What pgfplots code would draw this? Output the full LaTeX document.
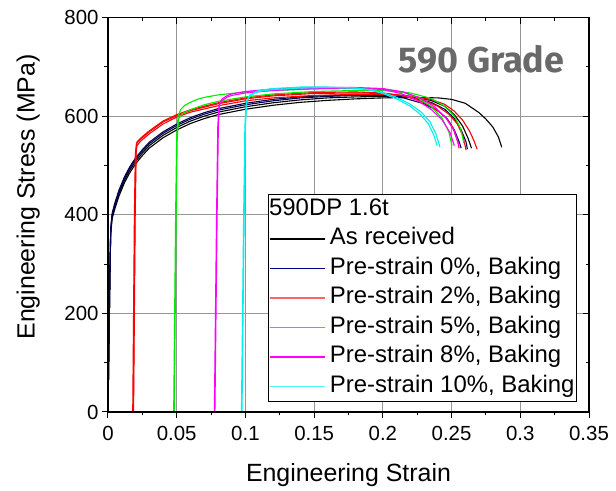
\documentclass[border=0pt]{standalone}
\usepackage{fontspec}
\setmainfont{Liberation Sans}
\newfontfamily\gradefont{Fira Sans}
\usepackage{pgfplots}
\pgfplotsset{compat=1.18}
\definecolor{navyc}{RGB}{0,0,140}
\definecolor{legred}{RGB}{255,100,100}
\definecolor{gridc}{RGB}{150,150,150}
\definecolor{gradegray}{RGB}{105,105,105}
\definecolor{cyanc}{RGB}{0,240,240}
\definecolor{greenc}{RGB}{0,235,0}
\definecolor{magc}{RGB}{255,0,255}
\definecolor{leggreen}{RGB}{0,255,0}
\begin{document}
\begin{tikzpicture}
\pgfplotsset{
  commonax/.style={scale only axis, width=481bp, height=394.5bp,
    xmin=0, xmax=0.35, ymin=0, ymax=800,
    xtick={0,0.05,0.1,0.15,0.2,0.25,0.3,0.35}, ytick={0,200,400,600,800},
    minor x tick num=1, minor y tick num=1,
    axis line style={line width=1.2bp},
    major tick length=6bp, minor tick length=3.5bp,
    every tick/.style={black, line width=1bp}},
}
\begin{axis}[commonax, xtick pos=bottom, ytick pos=left, tick align=outside,
  xticklabels={0,0.05,0.1,0.15,0.2,0.25,0.3,0.35},
  yticklabels={0,200,400,600,800},
  ticklabel style={font=\fontsize{20.5}{20.5}\selectfont},
  xticklabel style={yshift=-5bp},
  grid=major, major grid style={gridc, line width=0.9bp},
  xlabel={Engineering Strain}, ylabel={Engineering Stress (MPa)},
  every axis x label/.style={at={(axis description cs:0.5,-0.1774)}, anchor=base, font=\fontsize{25}{25}\selectfont},
  every axis y label/.style={at={(axis description cs:-0.166,0.545)}, rotate=90, anchor=center, font=\fontsize{25}{25}\selectfont},
  legend style={at={(rel axis cs:0.975,0.0253)}, anchor=south east, draw=black, line width=0.9bp,
    fill=white, font=\fontsize{24}{24}\selectfont, inner xsep=0.5bp, inner ysep=3bp,
    nodes={inner sep=1.5bp, text height=16bp, text depth=5bp}, row sep=5.5bp, column sep=3bp},
  legend cell align=left,
]
% As received (black)
\addplot[black, line width=1.1bp, forget plot] coordinates {(0,0) (0.0005,100) (0.001,200) (0.0015,300) (0.002,360) (0.003,392) (0.005,412) (0.008,438) (0.012,465) (0.016,486) (0.02,503) (0.025,520) (0.03,535) (0.04,556) (0.05,572) (0.06,585) (0.07,595) (0.08,603) (0.10,614) (0.12,622) (0.14,628) (0.16,632) (0.18,635) (0.20,637) (0.22,638) (0.24,637) (0.25,634) (0.26,626) (0.27,607) (0.275,594) (0.28,578) (0.284,558) (0.2865,537)};
\addplot[black, line width=1.1bp, forget plot] coordinates {(0,0) (0.0005,100) (0.001,200) (0.0015,300) (0.002,365) (0.003,396) (0.005,417) (0.008,443) (0.012,470) (0.016,491) (0.02,508) (0.025,525) (0.03,540) (0.04,561) (0.05,577) (0.06,590) (0.07,600) (0.08,608) (0.10,619) (0.12,627) (0.14,633) (0.16,637) (0.18,639) (0.20,640) (0.22,638) (0.235,632) (0.245,620) (0.252,603) (0.258,580) (0.262,555) (0.2645,535)};
% Pre-strain 0%, baking (navy)
\addplot[navyc!60!black, line width=1.1bp, forget plot] coordinates {(0,0) (0.0005,100) (0.001,200) (0.0015,300) (0.002,370) (0.003,400) (0.005,421) (0.008,447) (0.012,474) (0.016,495) (0.02,512) (0.025,529) (0.03,544) (0.04,565) (0.05,581) (0.06,594) (0.07,604) (0.08,612) (0.10,623) (0.12,631) (0.14,637) (0.16,640) (0.18,642) (0.20,642) (0.22,638) (0.235,628) (0.245,614) (0.252,595) (0.257,572) (0.2605,548) (0.2615,533)};
\addplot[navyc!60!black, line width=1.1bp, forget plot] coordinates {(0,0) (0.0005,100) (0.001,200) (0.0015,300) (0.002,373) (0.003,403) (0.005,424) (0.008,450) (0.012,477) (0.016,498) (0.02,515) (0.025,532) (0.03,547) (0.04,568) (0.05,584) (0.06,597) (0.07,607) (0.08,615) (0.10,626) (0.12,634) (0.14,639) (0.16,642) (0.18,643) (0.20,642) (0.215,637) (0.23,625) (0.24,611) (0.247,594) (0.252,572) (0.2555,548) (0.257,535)};
% Pre-strain 2% (red)
\addplot[red, line width=1.1bp, forget plot] coordinates {(0.0184,0) (0.019,200) (0.0196,400) (0.0203,520) (0.021,540) (0.024,550) (0.03,564) (0.035,574) (0.04,584) (0.05,598) (0.06,608) (0.08,621) (0.10,631) (0.12,637) (0.15,642) (0.18,644) (0.20,644) (0.22,641) (0.235,634) (0.245,624) (0.252,610) (0.258,592) (0.263,570) (0.266,552) (0.2686,533)};
\addplot[red, line width=1.1bp, forget plot] coordinates {(0.0180,0) (0.0186,200) (0.0192,400) (0.0199,525) (0.0207,545) (0.024,554) (0.03,568) (0.035,578) (0.04,588) (0.05,601) (0.06,611) (0.08,625) (0.10,635) (0.12,641) (0.15,646) (0.18,647) (0.20,646) (0.215,642) (0.23,632) (0.24,620) (0.248,604) (0.254,585) (0.258,562) (0.2606,531)};
\addplot[red, line width=1.1bp, forget plot] coordinates {(0.0186,0) (0.0192,200) (0.0198,400) (0.0205,530) (0.0212,548) (0.024,556) (0.03,570) (0.035,580) (0.04,590) (0.05,603) (0.06,613) (0.08,627) (0.10,637) (0.12,643) (0.15,648) (0.18,649) (0.20,647) (0.215,641) (0.228,630) (0.238,615) (0.246,597) (0.251,576) (0.2545,548) (0.2555,535)};
% Pre-strain 5% (green)
\addplot[greenc, line width=1.1bp, forget plot] coordinates {(0.0478,0) (0.0485,200) (0.0492,400) (0.050,560) (0.051,600) (0.053,614) (0.056,622) (0.06,628) (0.065,634) (0.07,638) (0.08,643) (0.10,649) (0.12,652) (0.15,655) (0.18,656) (0.20,655) (0.215,648) (0.225,638) (0.235,620) (0.243,596) (0.248,568) (0.2503,540)};
\addplot[greenc, line width=1.1bp, forget plot] coordinates {(0.0482,0) (0.0489,200) (0.0496,400) (0.0504,560) (0.0515,595) (0.054,605) (0.06,613) (0.065,618) (0.07,623) (0.08,630) (0.10,639) (0.12,645) (0.15,650) (0.18,652) (0.20,652) (0.22,647) (0.235,636) (0.245,620) (0.252,600) (0.2565,575) (0.259,545)};
% Pre-strain 8% (magenta)
\addplot[magc, line width=1.1bp, forget plot] coordinates {(0.0778,0) (0.0786,200) (0.0794,400) (0.0803,580) (0.0812,625) (0.083,635) (0.087,642) (0.09,645) (0.10,650) (0.12,655) (0.15,658) (0.18,658) (0.20,656) (0.215,649) (0.228,636) (0.238,618) (0.246,596) (0.252,570) (0.2555,540)};
\addplot[magc, line width=1.1bp, forget plot] coordinates {(0.0774,0) (0.0782,200) (0.079,400) (0.0799,580) (0.0808,622) (0.083,632) (0.087,639) (0.09,642) (0.10,647) (0.12,652) (0.15,656) (0.18,657) (0.20,654) (0.213,646) (0.225,632) (0.235,614) (0.243,593) (0.249,566) (0.252,540)};
% Pre-strain 10% (cyan)
\addplot[cyanc, line width=1.1bp, forget plot] coordinates {(0.0975,0) (0.0983,200) (0.0991,400) (0.1,580) (0.101,628) (0.103,640) (0.107,647) (0.11,650) (0.12,654) (0.14,657) (0.16,658) (0.18,657) (0.19,654) (0.20,648) (0.21,638) (0.22,624) (0.228,608) (0.234,590) (0.2385,565) (0.2416,537)};
\addplot[cyanc, line width=1.1bp, forget plot] coordinates {(0.0971,0) (0.0979,200) (0.0987,400) (0.0996,580) (0.1006,630) (0.103,642) (0.107,649) (0.11,652) (0.12,656) (0.14,659) (0.16,659) (0.18,657) (0.19,653) (0.20,646) (0.21,635) (0.22,620) (0.227,604) (0.233,585) (0.237,562) (0.2395,540)};
% legend
\addlegendimage{legend image code/.code={\node[overlay, anchor=west, inner sep=0pt] at (-1bp,0bp) {590DP 1.6t};}}
\addlegendentry{}
\addlegendimage{legend image code/.code={\draw[draw=black, line width=1.2bp] (0bp,0bp) -- (55bp,0bp);}}
\addlegendentry{As received}
\addlegendimage{legend image code/.code={\draw[draw=navyc, line width=1.4bp] (0bp,0bp) -- (55bp,0bp);}}
\addlegendentry{Pre-strain 0\%, Baking}
\addlegendimage{legend image code/.code={\draw[draw=legred, line width=1.4bp] (0bp,0bp) -- (55bp,0bp);}}
\addlegendentry{Pre-strain 2\%, Baking}
\addlegendimage{legend image code/.code={\draw[draw=leggreen, line width=1.6bp] (0bp,0bp) -- (55bp,0bp);}}
\addlegendentry{Pre-strain 5\%, Baking}
\addlegendimage{legend image code/.code={\draw[draw=magc, line width=1.4bp] (0bp,0bp) -- (55bp,0bp);}}
\addlegendentry{Pre-strain 8\%, Baking}
\addlegendimage{legend image code/.code={\draw[draw=cyanc!70!white, line width=1.6bp] (0bp,0bp) -- (55bp,0bp);}}
\addlegendentry{Pre-strain 10\%, Baking}
\node[font=\gradefont\bfseries\fontsize{36}{36}\selectfont, text=gradegray, anchor=center] at (axis cs:0.2718,716) {590 Grade};
\end{axis}
\begin{axis}[commonax, xtick pos=top, ytick pos=right, tick align=inside,
  xticklabels={}, yticklabels={}]
\end{axis}
\path[use as bounding box] (-108bp,-76bp) rectangle (508bp,412bp);
\end{tikzpicture}
\end{document}
